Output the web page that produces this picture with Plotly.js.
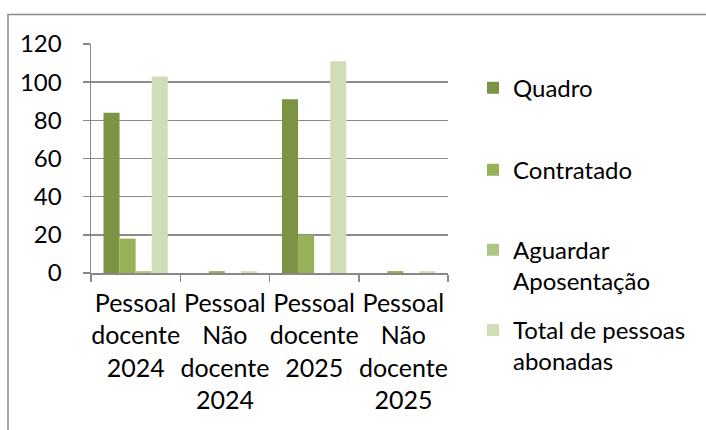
<!DOCTYPE html>
<html>
<head>
<meta charset="utf-8">
<script src="https://cdn.plot.ly/plotly-3.0.1.min.js"></script>
<style>
  html, body { margin: 0; padding: 0; background: #ffffff; }
  #chart { width: 706px; height: 430px; }
</style>
</head>
<body>
<div id="chart"></div>
<script>
const categories = [
  "Pessoal<br>docente<br>2024",
  "Pessoal<br>Não<br>docente<br>2024",
  "Pessoal<br>docente<br>2025",
  "Pessoal<br>Não<br>docente<br>2025"
];
const seriesNames = ["Quadro", "Contratado", "Aguardar<br>Aposentação", "Total de pessoas<br>abonadas"];
const quadro = [84, 0, 91, 0];
const contratado = [18, 1, 20, 1];
const aguardar = [1, 0, 0, 0];
const total = [103, 1, 111, 1];
const yTicks = [0, 20, 40, 60, 80, 100, 120];

const colors = ["#7B9343", "#96B157", "#AEC787", "#D0DDB9"];
const values = [quadro, contratado, aguardar, total];
const legendIds = ["legend", "legend2", "legend3", "legend4"];
const FONT = "Lato, 'Open Sans', sans-serif";

const data = values.map((v, i) => ({
  type: "bar",
  x: categories,
  y: v,
  name: seriesNames[i],
  legend: legendIds[i],
  marker: { color: colors[i], line: { width: 0 } },
  hoverinfo: "none"
}));

function legendAt(yPaper) {
  return {
    x: 1.07, xanchor: "left",
    y: yPaper, yanchor: "top",
    valign: "top",
    bgcolor: "rgba(0,0,0,0)",
    font: { family: FONT, size: 24, color: "#000000" },
    itemclick: false, itemdoubleclick: false
  };
}

const layout = {
  width: 706, height: 430,
  margin: { l: 91, r: 258, t: 44, b: 157 },
  paper_bgcolor: "#ffffff",
  plot_bgcolor: "#ffffff",
  showlegend: true,
  barmode: "group",
  bargap: 0.28,
  bargroupgap: 0,
  font: { family: FONT, size: 24, color: "#000000" },
  xaxis: {
    type: "category",
    tickson: "boundaries",
    ticks: "outside",
    ticklen: 7,
    tickcolor: "#888888",
    tickwidth: 1.5,
    tickangle: 0,
    showgrid: false,
    showline: true,
    linecolor: "#888888",
    linewidth: 1.5,
    tickfont: { family: FONT, size: 25, color: "#000000" },
    ticklabelstandoff: 7,
    fixedrange: true
  },
  yaxis: {
    range: [0, 120],
    tickvals: yTicks,
    ticktext: yTicks.map(String),
    ticks: "outside",
    ticklen: 7,
    tickcolor: "#888888",
    tickwidth: 1.5,
    showgrid: true,
    gridcolor: "#8c8c8c",
    gridwidth: 1.5,
    zeroline: false,
    showline: true,
    linecolor: "#888888",
    linewidth: 1.5,
    tickfont: { family: FONT, size: 24, color: "#000000" },
    ticklabelstandoff: 16,
    fixedrange: true
  },
  legend: legendAt(0.905),
  legend2: legendAt(0.547),
  legend3: legendAt(0.198),
  legend4: legendAt(-0.152),
  shapes: [{
    type: "rect", xref: "paper", yref: "paper",
    x0: -0.2325, x1: 1.8, y0: -0.8, y1: 1.1288,
    line: { color: "#8a8a8a", width: 1.5 },
    fillcolor: "rgba(0,0,0,0)",
    layer: "below"
  }]
};

Plotly.newPlot("chart", data, layout, { displayModeBar: false, staticPlot: true });
</script>
</body>
</html>
